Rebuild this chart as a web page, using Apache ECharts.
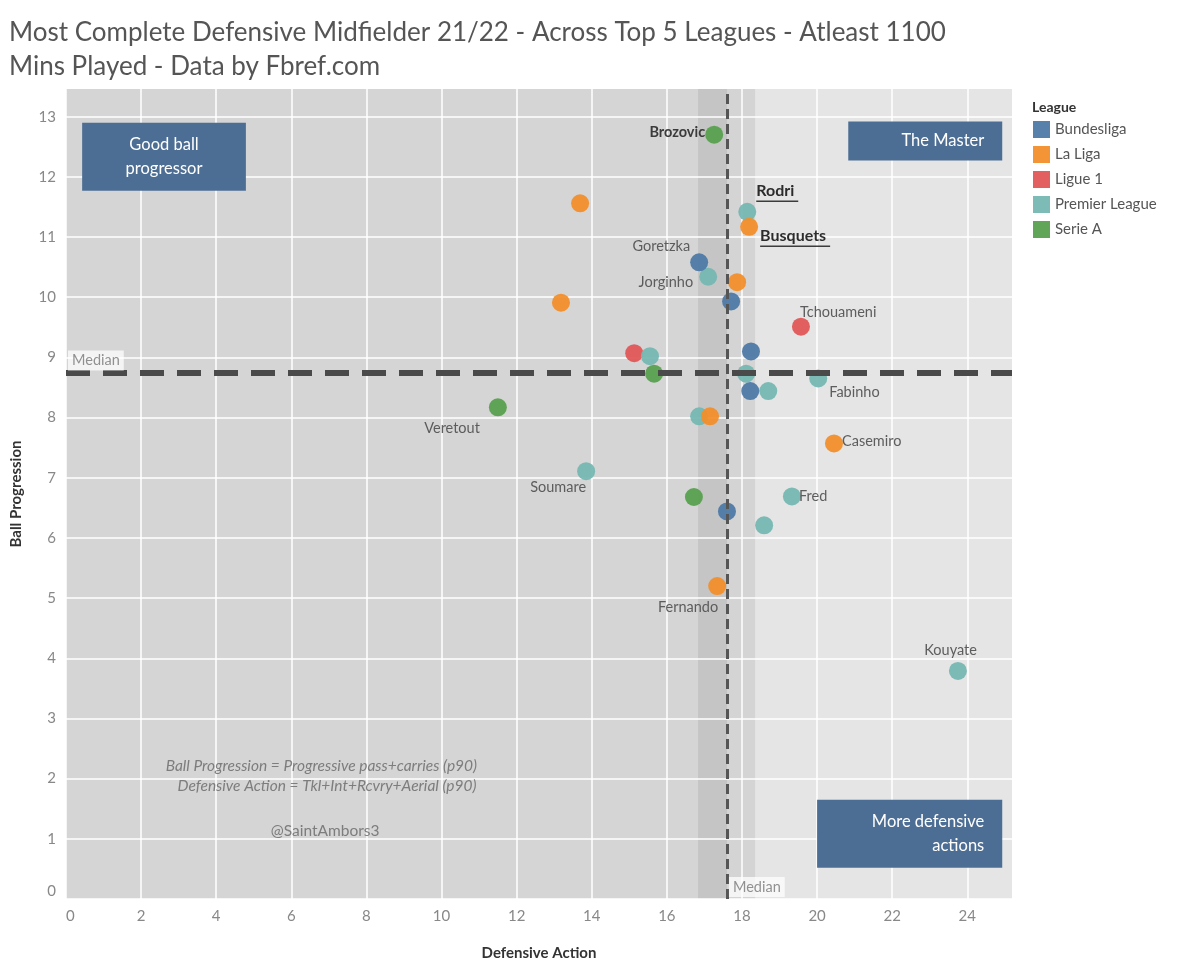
<!DOCTYPE html>
<html>
<head>
<meta charset="utf-8">
<script src="https://cdn.jsdelivr.net/npm/echarts@6/dist/echarts.min.js"></script>
<style>
  html, body { margin: 0; padding: 0; background: #fff; }
  #chart { width: 1200px; height: 971px; }
</style>
</head>
<body>
<div id="chart"></div>
<script>
// league groups: [defensive action, ball progression, player name]
var leagues = ['Bundesliga', 'La Liga', 'Ligue 1', 'Premier League', 'Serie A'];
var bundesliga = [[16.86, 10.58, 'Goretzka'], [17.71, 9.93, ''], [18.24, 9.10, ''], [18.22, 8.44, ''], [17.60, 6.44, '']];
var laLiga = [[13.69, 11.56, ''], [18.19, 11.17, 'Busquets'], [17.87, 10.25, ''], [13.18, 9.91, ''], [17.15, 8.02, ''], [20.45, 7.57, 'Casemiro'], [17.34, 5.20, 'Fernando']];
var ligue1 = [[19.57, 9.51, 'Tchouameni'], [15.13, 9.07, '']];
var premierLeague = [[18.14, 11.42, 'Rodri'], [17.10, 10.34, 'Jorginho'], [15.55, 9.02, ''], [18.11, 8.73, ''], [20.03, 8.65, 'Fabinho'], [18.70, 8.44, ''], [16.86, 8.02, ''], [13.85, 7.11, 'Soumare'], [19.33, 6.69, 'Fred'], [18.59, 6.21, ''], [23.75, 3.79, 'Kouyate']];
var serieA = [[17.26, 12.70, 'Brozovic'], [15.66, 8.73, ''], [11.50, 8.17, 'Veretout'], [16.72, 6.68, '']];

var medianDef = 17.60;
var medianProg = 8.75;
var band = [16.83, 18.35];
var xMax = 25.19, yMax = 13.46;
var xTicks = [0, 2, 4, 6, 8, 10, 12, 14, 16, 18, 20, 22, 24];
var yTicks = [0, 1, 2, 3, 4, 5, 6, 7, 8, 9, 10, 11, 12, 13];

var colors = ['#4e79a7', '#f28e2b', '#e15759', '#76b7b2', '#59a14f'];
var FONT = 'Lato';

// label placement per player
var labelPos = {
  Brozovic:   { position: 'left',  offset: [0, -2], bold: true },
  Rodri:      { position: 'right', offset: [0, -19], underline: 42 },
  Busquets:   { position: 'right', offset: [2, 11], underline: 70 },
  Goretzka:   { position: 'left',  offset: [0, -16] },
  Jorginho:   { position: 'left',  offset: [-6, 6] },
  Tchouameni: { position: 'right', offset: [-10, -14] },
  Fabinho:    { position: 'right', offset: [2, 14] },
  Veretout:   { position: 'left',  offset: [-9, 21] },
  Casemiro:   { position: 'right', offset: [-1, -2] },
  Soumare:    { position: 'left',  offset: [9, 16] },
  Fred:       { position: 'right', offset: [-2, 0] },
  Fernando:   { position: 'left',  offset: [10, 21] },
  Kouyate:    { position: 'left',  offset: [28, -21] }
};

function toItems(list) {
  return list.map(function (d) {
    var item = { value: [d[0], d[1]], name: d[2] };
    var p = labelPos[d[2]];
    if (p) {
      var lab = {
        show: true, position: p.position, offset: p.offset, distance: 0,
        fontFamily: FONT, fontSize: 14.5, color: '#555'
      };
      if (p.bold) { lab.fontWeight = 'bold'; lab.color = '#333'; }
      if (p.underline) {
        lab.formatter = '{n|' + d[2] + '}\n{u|}';
        lab.rich = {
          n: { fontFamily: FONT, fontSize: 16, fontWeight: 'bold', color: '#222', lineHeight: 17 },
          u: { width: p.underline, height: 1.5, lineHeight: 3, backgroundColor: '#333' }
        };
      } else {
        lab.formatter = d[2];
      }
      item.label = lab;
    }
    return item;
  });
}

var groups = [bundesliga, laLiga, ligue1, premierLeague, serieA];
var drawOrder = [2, 3, 0, 1, 4];

var series = [];

// background shading
series.push({
  name: 'bg', type: 'scatter', data: [], z: 1, silent: true,
  markArea: {
    silent: true, z: 1,
    data: [
      [{ xAxis: 0, yAxis: 0, itemStyle: { color: '#d5d5d5' } }, { xAxis: medianDef, yAxis: yMax }],
      [{ xAxis: band[0], yAxis: 0, itemStyle: { color: 'rgba(0,0,0,0.075)' } }, { xAxis: band[1], yAxis: yMax }]
    ]
  }
});

// white grid lines at tick values
series.push({
  name: 'gridlines', type: 'scatter', data: [], z: 1, silent: true,
  markLine: {
    silent: true, z: 1.5, symbol: 'none', label: { show: false },
    lineStyle: { color: '#fff', width: 1.5, type: 'solid', opacity: 1 },
    data: xTicks.map(function (v) { return { xAxis: v }; })
      .concat(yTicks.map(function (v) { return { yAxis: v }; }))
  }
});

drawOrder.forEach(function (i) {
  series.push({
    name: leagues[i], type: 'scatter', symbolSize: 18, z: 3,
    itemStyle: { color: colors[i], opacity: 0.95 },
    data: toItems(groups[i])
  });
});

// median reference lines
series.push({
  name: 'median', type: 'scatter', data: [], z: 4, silent: true,
  markLine: {
    silent: true, z: 4, symbol: 'none', label: { show: false },
    data: [
      { yAxis: medianProg, lineStyle: { color: '#4a4a4a', width: 6, type: [24, 13], opacity: 1 } },
      { xAxis: medianDef, lineStyle: { color: '#555', width: 3, type: [10, 5], opacity: 1 } }
    ]
  }
});

// quadrant boxes
var boxColor = '#4d6e94';
series.push({
  name: 'boxes', type: 'scatter', data: [], z: 5, silent: true,
  markArea: {
    silent: true, z: 5,
    itemStyle: { color: boxColor, opacity: 1 },
    label: { color: '#fff', fontFamily: FONT, fontSize: 16.5, lineHeight: 24 },
    data: [
      [{ name: 'Good ball\nprogressor', xAxis: 0.43, yAxis: 12.90,
         label: { position: 'inside', align: 'center' } }, { xAxis: 4.79, yAxis: 11.77 }],
      [{ name: 'The Master', xAxis: 20.83, yAxis: 12.92,
         label: { position: 'insideRight', distance: 18, align: 'right' } }, { xAxis: 24.93, yAxis: 12.27 }],
      [{ name: 'More defensive\nactions', xAxis: 20.0, yAxis: 1.65,
         label: { position: 'insideRight', distance: 18, align: 'right' } }, { xAxis: 24.93, yAxis: 0.52 }]
    ]
  }
});

// text notes
var notes = [
  [6.80, 2.21, 'Ball Progression = Progressive pass+carries (p90)', 'italic'],
  [6.95, 1.88, 'Defensive Action = Tkl+Int+Rcvry+Aerial (p90)', 'italic'],
  [6.90, 1.13, '@SaintAmbors3', 'normal']
];
series.push({
  name: 'notes', type: 'scatter', symbolSize: 0, z: 6, silent: true,
  data: notes.map(function (n) {
    return {
      value: [n[0], n[1]],
      label: { show: true, position: 'inside', formatter: n[2], fontStyle: n[3],
               fontFamily: FONT, fontSize: 15.5, color: '#666' }
    };
  })
});

// "Median" tags
series.push({
  name: 'medianTags', type: 'scatter', symbolSize: 0, z: 7, silent: true,
  data: [
    { value: [0, 8.95] },
    { value: [medianDef, 0.20] }
  ],
  label: {
    show: true, position: 'right', distance: 2, formatter: 'Median',
    fontFamily: FONT, fontSize: 14.5, color: '#777',
    backgroundColor: 'rgba(255,255,255,0.92)', padding: [3, 4, 2, 4]
  }
});

var chart = echarts.init(document.getElementById('chart'), null, { renderer: 'canvas' });
chart.setOption({
  animation: false,
  backgroundColor: '#fff',
  color: colors,
  textStyle: { fontFamily: FONT },
  title: [
    {
      text: 'Most Complete Defensive Midfielder 21/22 - Across Top 5 Leagues - Atleast 1100\nMins Played - Data by Fbref.com',
      left: 4, top: 11,
      textStyle: { fontFamily: FONT, fontSize: 26, fontWeight: 'normal', color: '#555', lineHeight: 34 }
    },
    {
      text: 'League', left: 1027, top: 95,
      textStyle: { fontFamily: FONT, fontSize: 14, fontWeight: 'bold', color: '#333' }
    }
  ],
  legend: {
    data: leagues, orient: 'vertical', left: 1028, top: 116,
    icon: 'rect', itemWidth: 17, itemHeight: 17, itemGap: 8,
    textStyle: { fontFamily: FONT, fontSize: 15, color: '#555' },
    selectedMode: false
  },
  grid: { left: 66, right: 188, top: 89, bottom: 72, show: true, backgroundColor: '#e5e5e5', borderWidth: 0 },
  xAxis: {
    type: 'value', min: 0, max: xMax, interval: 2,
    name: 'Defensive Action', nameLocation: 'middle', nameGap: 47,
    nameTextStyle: { fontFamily: FONT, fontSize: 15, fontWeight: 'bold', color: '#333' },
    axisLine: { show: false },
    axisTick: { show: false },
    axisLabel: {
      color: '#888', fontSize: 15, margin: 10, fontFamily: FONT,
      formatter: function (v) { return xTicks.indexOf(v) >= 0 ? String(v) : ''; },
      showMaxLabel: false, alignMinLabel: 'left'
    },
    splitLine: { show: false }
  },
  yAxis: {
    type: 'value', min: 0, max: yMax, interval: 1,
    name: 'Ball Progression', nameLocation: 'middle', nameGap: 42, nameRotate: 90,
    nameTextStyle: { fontFamily: FONT, fontSize: 15, fontWeight: 'bold', color: '#333' },
    axisLine: { show: false },
    axisTick: { show: false },
    axisLabel: {
      color: '#888', fontSize: 15, margin: 10, fontFamily: FONT,
      formatter: function (v) { return yTicks.indexOf(v) >= 0 ? String(v) : ''; },
      showMaxLabel: false, verticalAlignMinLabel: 'bottom'
    },
    splitLine: { show: false }
  },
  series: series
});
</script>
</body>
</html>
